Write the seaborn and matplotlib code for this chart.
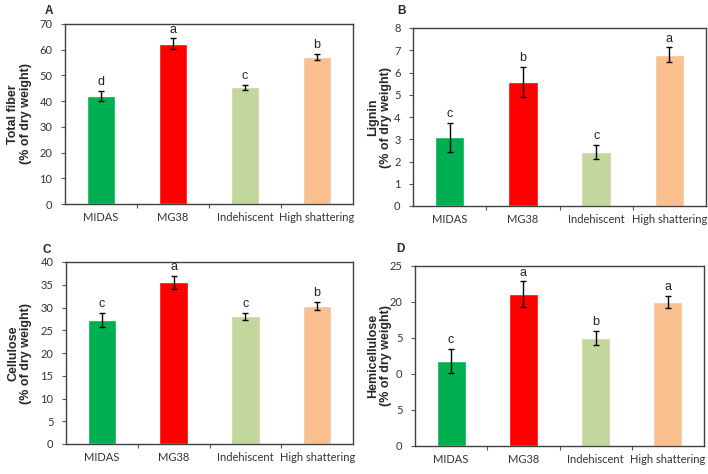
import numpy as np
import pandas as pd
import seaborn as sns
import matplotlib.pyplot as plt

lines = ['MIDAS', 'MG38', 'Indehiscent', 'High shattering']
bar_colors = ['#00B050', '#FF0000', '#C3D69B', '#FAC090']

fiber = [42.0, 62.3, 45.4, 57.2]
fiber_err = [2.1, 2.1, 1.0, 1.2]
fiber_sig = ['d', 'a', 'c', 'b']

lignin = [3.08, 5.58, 2.43, 6.80]
lignin_err = [0.65, 0.66, 0.33, 0.33]
lignin_sig = ['c', 'b', 'c', 'a']

cellulose = [27.3, 35.5, 28.1, 30.4]
cellulose_err = [1.55, 1.5, 0.8, 0.85]
cellulose_sig = ['c', 'a', 'c', 'b']

hemi = [11.8, 21.1, 15.0, 20.0]
hemi_err = [1.7, 1.75, 0.95, 0.85]
hemi_sig = ['c', 'a', 'b', 'a']

sns.set_style('white')
plt.rcParams['font.family'] = ['Liberation Sans', 'DejaVu Sans']

fig = plt.figure(figsize=(7.08, 4.74), dpi=100)
W, H = 708, 474

panels = [
    # letter, values, errors, sig, ylabel, ymax, step, ticklabels, box(l, r, t, b), label x, letter pos
    ('A', fiber, fiber_err, fiber_sig, 'Total fiber', 70, 10, None, (65, 353, 24, 204), -0.115, (49, 11)),
    ('B', lignin, lignin_err, lignin_sig, 'Lignin', 8, 1, None, (413, 706, 28, 206), -0.072, (401, 11)),
    ('C', cellulose, cellulose_err, cellulose_sig, 'Cellulose', 40, 5, None, (66, 353, 262, 444), -0.118, (47, 250)),
    ('D', hemi, hemi_err, hemi_sig, 'Hemicellulose', 25, 5, ['0', '5', '0', '5', '20', '25'],
     (415, 704, 266, 446), -0.080, (400, 249)),
]

for letter, vals, errs, sig, name, ymax, step, tlabels, box, lx, lpos in panels:
    l, r, t, b = box
    ax = fig.add_axes([l / W, 1 - b / H, (r - l) / W, (b - t) / H])
    df = pd.DataFrame({'line': lines, 'value': vals})
    sns.barplot(data=df, x='line', y='value', hue='line', palette=bar_colors,
                legend=False, width=0.4, saturation=1, ax=ax)
    ax.errorbar(range(4), vals, yerr=errs, fmt='none', ecolor='black',
                elinewidth=1, capsize=2.5, capthick=1)
    for i, s in enumerate(sig):
        ax.annotate(s, (i, vals[i] + errs[i]), xytext=(0, 2), textcoords='offset points',
                    ha='center', va='bottom', fontsize=9, color='#222222')
    ax.set_xlim(-0.5, 3.5)
    ax.set_ylim(0, ymax)
    ticks = np.arange(0, ymax + step / 2, step)
    ax.set_yticks(ticks)
    ax.set_yticklabels(tlabels if tlabels else [f'{v:g}' for v in ticks],
                       family=['Lato', 'DejaVu Sans'])
    ax.set_xticks(range(4))
    ax.set_xticklabels(lines, family=['Lato', 'DejaVu Sans'])
    ax.set_xticks([0.5, 1.5, 2.5], minor=True)
    ax.tick_params(axis='x', which='major', length=0, pad=6, labelsize=8, colors='#333333')
    ax.tick_params(axis='x', which='minor', length=3, width=0.8, color='#555555', direction='out', bottom=True)
    ax.tick_params(axis='y', length=3, width=0.8, color='#555555', direction='out', left=True,
                   pad=6, labelsize=8, labelcolor='#333333')
    for sp in ax.spines.values():
        sp.set_color('#404040')
        sp.set_linewidth(1)
    ax.set_xlabel('')
    ax.set_ylabel(f'{name}\n(% of dry weight)', fontsize=9, fontweight='bold', linespacing=1.1)
    ax.yaxis.set_label_coords(lx, 0.5)
    fig.text(lpos[0] / W, 1 - lpos[1] / H, letter, fontsize=8.5, fontweight='bold',
             ha='center', va='center')

plt.savefig('out.png', dpi=100)
